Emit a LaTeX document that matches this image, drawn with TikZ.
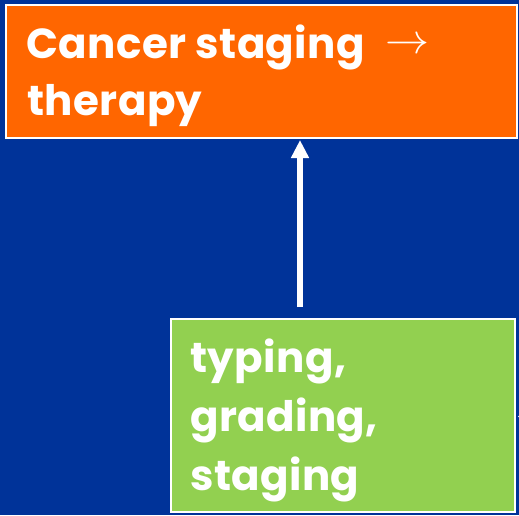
\documentclass[tikz,border=0pt]{standalone}
\usepackage{fontspec}
\setmainfont{Poppins}[BoldFont={* Bold}, LetterSpace=1]
\usepackage{graphicx}
\usetikzlibrary{arrows.meta}
\definecolor{bgblue}{RGB}{0,51,153}
\definecolor{boxorange}{RGB}{255,102,0}
\definecolor{boxgreen}{RGB}{146,208,80}
\tikzset{
  box/.style={draw=white, line width=2pt, rectangle, inner sep=0pt, anchor=north west},
  lbl/.style={text=white, font=\bfseries\fontsize{42}{57}\selectfont, anchor=base west, inner sep=0pt, align=left},
  flow/.style={draw=white, line width=6pt, -{Triangle[width=17pt,length=18pt]}}
}
\begin{document}
\begin{tikzpicture}[x=1pt,y=-1pt]
\fill[bgblue] (0,0) rectangle (519,515);
\useasboundingbox (0,0) rectangle (519,515);
\node[box, fill=boxorange, minimum width=511pt, minimum height=133pt] (stage) at (5,4) {};
\node[box, fill=boxgreen, minimum width=344pt, minimum height=193pt] (typ) at (170,318) {};
\node[lbl] (t1) at (26,58) {Cancer staging};
\node[text=white, anchor=west, inner sep=0pt] (arr) at (385,46) {\scalebox{4.4}[4.2]{$\rightarrow$}};
\node[lbl] (t2) at (27,115) {therapy};
\node[lbl] (g1) at (190,372) {typing,};
\node[lbl] (g2) at (190,431) {grading,};
\node[lbl] (g3) at (190,490) {staging};
\draw[flow, shorten <=11pt, shorten >=1pt] (typ.north -| 300,0) -- (stage.south -| 300,0);
\draw[white, line width=2pt, {Triangle[width=7pt,length=4pt]}-] (typ.east) ++(2pt,-1pt) coordinate (rt) -- ++(20,0);
\end{tikzpicture}
\end{document}
